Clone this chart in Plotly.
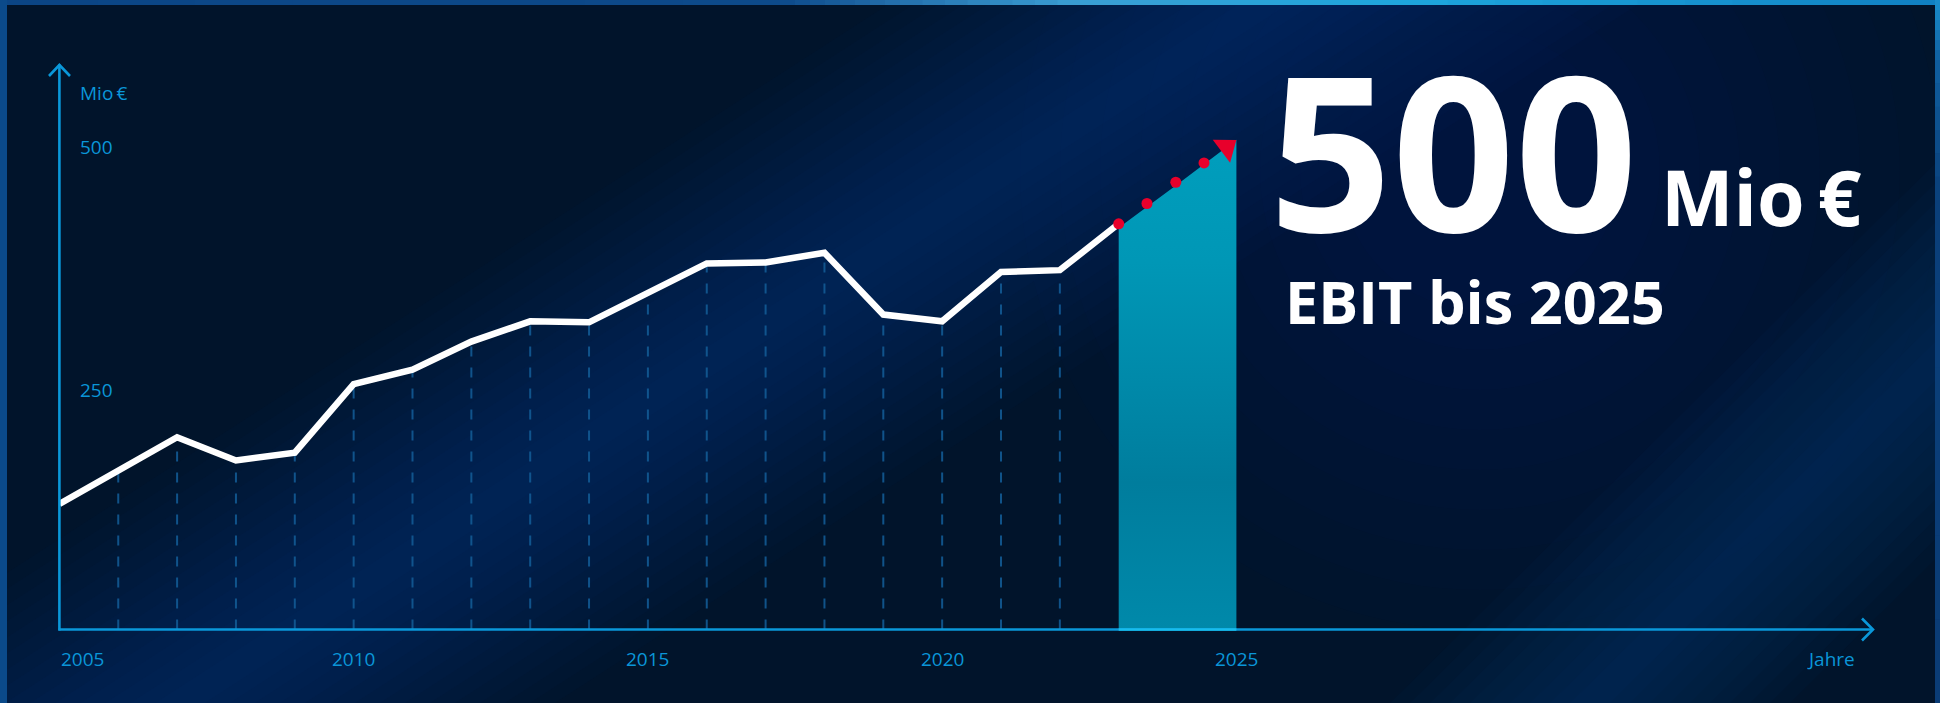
import plotly.graph_objects as go

# ---------------- data ----------------
years = [2005, 2006, 2007, 2008, 2009, 2010, 2011, 2012, 2013, 2014,
         2015, 2016, 2017, 2018, 2019, 2020, 2021, 2022, 2023]
ebit = [130, 164, 199, 175, 183, 254, 269, 298, 319, 318,
        348, 379, 380, 390, 326, 319, 370, 372, 420]

target_years = [2023, 2024, 2025]
target_ebit = [416, 461, 507]

dot_years = [2023, 2023.48, 2023.97, 2024.45]
dot_ebit = [420, 441, 463, 483]
arrow_year = [2024.83]
arrow_ebit = [499]

grid_years = years[1:-1]
grid_ebit = ebit[1:-1]

xtick_vals = [2005, 2010, 2015, 2020, 2025]
xtick_text = ["2005", "2010", "2015", "2020", "2025"]
ytick_vals = [250, 500]
ytick_text = ["250", "500"]

# ---------------- geometry (pixels of the 1940x703 page) ----------------
W, H = 1940, 703
L, R, T, B = 59, 66, 64, 73
PW, PH = W - L - R, H - T - B
SX = 58.85          # px per year
SY = 0.966          # px per Mio €
AX_X, AX_Y = 59.4, 629.5
X0 = 2005 - (AX_X - L) / SX
X1 = X0 + PW / SX
Y0 = (AX_Y - (H - B)) / SY
Y1 = Y0 + PH / SY


def px(x):
    return (x - L) / PW


def py(y):
    return (H - B - y) / PH


AXIS = "#0a98da"
LABEL = "#0a96d8"

fig = go.Figure()

# dashed year guides
gx, gy = [], []
for yr, v in zip(grid_years, grid_ebit):
    gx += [yr, yr, None]
    gy += [0, v, None]
fig.add_trace(go.Scatter(x=gx, y=gy, mode="lines",
                         line=dict(color="rgba(18,90,148,0.9)", width=2, dash="10px,11px"),
                         hoverinfo="skip", showlegend=False))

# target area
fig.add_trace(go.Scatter(x=target_years, y=target_ebit, mode="lines",
                         fill="tozeroy",
                         fillgradient=dict(type="vertical", start=0, stop=target_ebit[-1],
                                           colorscale=[[0, "#0089aa"], [0.3, "#007d9d"],
                                                       [0.5, "#0089a9"], [0.75, "#0097b6"],
                                                       [1, "#009ebd"]]),
                         line=dict(width=0, color="rgba(0,0,0,0)"),
                         hoverinfo="skip", showlegend=False))

# history line
fig.add_trace(go.Scatter(x=years, y=ebit, mode="lines",
                         line=dict(color="white", width=6.5),
                         hoverinfo="skip", showlegend=False))

# red dotted forecast
fig.add_trace(go.Scatter(x=dot_years, y=dot_ebit, mode="markers",
                         marker=dict(color="#e8002b", size=11, line=dict(width=0)),
                         hoverinfo="skip", showlegend=False))
fig.add_trace(go.Scatter(x=arrow_year, y=arrow_ebit, mode="markers",
                         marker=dict(color="#e8002b", size=25, symbol="triangle-up", angle=53,
                                     line=dict(width=0)),
                         hoverinfo="skip", showlegend=False))

shapes = []


def poly(pts, color, op):
    d = "M " + " L ".join(f"{px(a)},{py(b)}" for a, b in pts) + " Z"
    shapes.append(dict(type="path", xref="paper", yref="paper", path=d,
                       fillcolor=color, opacity=op, line=dict(width=0), layer="below"))


def band(xb, xt, hws, color, op):
    for hw in hws:
        poly([(xb - hw, 703), (xb + hw, 703), (xt + hw, 0), (xt - hw, 0)], color, op)


def glow(cx, cy, radii, color, op):
    for r in radii:
        shapes.append(dict(type="circle", xref="paper", yref="paper",
                           x0=px(cx - r), x1=px(cx + r), y0=py(cy + r), y1=py(cy - r),
                           fillcolor=color, opacity=op, line=dict(width=0), layer="below"))


def rect(x0, x1, y0, y1, color):
    shapes.append(dict(type="rect", xref="paper", yref="paper", x0=px(x0), x1=px(x1),
                       y0=py(y1), y1=py(y0), fillcolor=color, line=dict(width=0), layer="below"))


def mix(c1, c2, t):
    a = [int(c1[i:i + 2], 16) for i in (1, 3, 5)]
    b = [int(c2[i:i + 2], 16) for i in (1, 3, 5)]
    return "#" + "".join(f"{round(a[i] + (b[i] - a[i]) * t):02x}" for i in range(3))


# ---------- background decoration ----------
band(180, 1270, list(range(25, 400, 25)), "#0a5aaa", 0.026)
band(1590, 2300, list(range(20, 220, 20)), "#0a5aaa", 0.035)
glow(1480, 170, list(range(460, 100, -40)), "#0a5aaa", 0.015)

# frame (top gradient, sides)
top_stops = [(0, "#0b4585"), (780, "#0d4a8a"), (900, "#2470ad"), (1080, "#3a9fd4"),
             (1400, "#1ea6dc"), (1780, "#148ccb"), (1940, "#1080c2")]
for i in range(len(top_stops) - 1):
    xa, ca = top_stops[i]
    xb, cb = top_stops[i + 1]
    n = 8
    for k in range(n):
        rect(xa + (xb - xa) * k / n, xa + (xb - xa) * (k + 1) / n + 0.6, 0, 5, mix(ca, cb, (k + 0.5) / n))
rect(0, 7, 0, 703, "#0b4a8a")
side_stops = [(0, "#1a90cf"), (60, "#0f5f9f"), (200, "#0a3f7a"), (703, "#0a3c76")]
for i in range(len(side_stops) - 1):
    ya, ca = side_stops[i]
    yb, cb = side_stops[i + 1]
    n = 6
    for k in range(n):
        rect(1935, 1940, ya + (yb - ya) * k / n, ya + (yb - ya) * (k + 1) / n + 0.6, mix(ca, cb, (k + 0.5) / n))

# axes lines + chevrons
shapes.append(dict(type="line", xref="paper", yref="paper", x0=px(AX_X), x1=px(AX_X), y0=py(AX_Y + 1), y1=py(64.5),
                   line=dict(color=AXIS, width=2.6)))
shapes.append(dict(type="line", xref="paper", yref="paper", x0=px(AX_X - 1), x1=px(1873), y0=py(AX_Y), y1=py(AX_Y),
                   line=dict(color=AXIS, width=2.6)))
shapes.append(dict(type="line", xref="x", yref="paper", x0=target_years[0], x1=target_years[-1],
                   y0=py(AX_Y), y1=py(AX_Y), line=dict(color="#18bdec", width=2.6)))
shapes.append(dict(type="path", xref="paper", yref="paper",
                   path=f"M {px(49)},{py(76)} L {px(AX_X)},{py(65)} L {px(70)},{py(76)}",
                   line=dict(color=AXIS, width=2.6)))
shapes.append(dict(type="path", xref="paper", yref="paper",
                   path=f"M {px(1862)},{py(AX_Y - 11)} L {px(1873)},{py(AX_Y)} L {px(1862)},{py(AX_Y + 11)}",
                   line=dict(color=AXIS, width=2.6)))

annotations = []
font_small = dict(family="Open Sans", size=19, color=LABEL)
for v, t in zip(xtick_vals, xtick_text):
    annotations.append(dict(x=v, y=py(659), xref="x", yref="paper", text=t, showarrow=False,
                            xanchor="left" if v == xtick_vals[0] else "center", yanchor="middle",
                            font=font_small))
for v, t in zip(ytick_vals, ytick_text):
    annotations.append(dict(x=px(78), y=v, xref="paper", yref="y", text=t, showarrow=False,
                            xanchor="left", yanchor="middle", yshift=-2 if v == 250 else 0,
                            font=font_small))
annotations.append(dict(x=px(78), y=py(93), xref="paper", yref="paper", text="Mio\u2009€", showarrow=False,
                        xanchor="left", yanchor="middle", font=font_small))
annotations.append(dict(x=px(1857), y=py(659), xref="paper", yref="paper", text="Jahre", showarrow=False,
                        xanchor="right", yanchor="middle", font=font_small))

annotations.append(dict(x=px(1267), y=py(148), xref="paper", yref="paper", text="<b>500</b>", showarrow=False,
                        xanchor="left", yanchor="middle", height=178, valign="middle",
                        font=dict(family="Open Sans", size=215, color="white")))
annotations.append(dict(x=px(1659), y=py(196), xref="paper", yref="paper", text="<b>Mio\u2009€</b>", showarrow=False,
                        xanchor="left", yanchor="middle",
                        font=dict(family="Open Sans", size=77, color="white")))
annotations.append(dict(x=px(1283), y=py(300), xref="paper", yref="paper", text="<b>EBIT bis 2025</b>", showarrow=False,
                        xanchor="left", yanchor="middle",
                        font=dict(family="Open Sans", size=59.5, color="white")))

fig.update_layout(
    width=W, height=H,
    margin=dict(l=L, r=R, t=T, b=B),
    paper_bgcolor="#01142b",
    plot_bgcolor="rgba(0,0,0,0)",
    showlegend=False,
    xaxis=dict(range=[X0, X1], visible=False, fixedrange=True),
    yaxis=dict(range=[Y0, Y1], visible=False, fixedrange=True),
    shapes=shapes,
    annotations=annotations,
)

fig.write_html("out.html",
               config={"displayModeBar": False, "staticPlot": True},
               post_script="document.body.style.margin='0px';document.body.style.overflow='hidden';"
                           "document.body.style.background='#01142b';")
